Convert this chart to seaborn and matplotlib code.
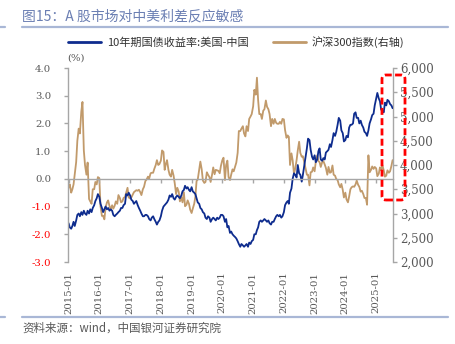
import matplotlib
matplotlib.use("Agg")
import matplotlib.pyplot as plt
import matplotlib.dates as mdates
from matplotlib.ticker import FuncFormatter, MultipleLocator
from matplotlib.patches import FancyBboxPatch
from matplotlib.lines import Line2D
import pandas as pd
import seaborn as sns

# ---------------- data (semi-monthly readings) ----------------
dates = pd.date_range("2015-01-01", "2025-07-15", freq="SMS")

spread_2015 = [-1.60, -1.75, -1.80, -1.70, -1.55, -1.70, -1.50, -1.30, -1.25, -1.35, -1.20, -1.30,
               -1.15, -1.25, -1.30, -1.15, -1.25, -1.10, -1.20, -1.05, -0.95, -0.80, -0.70, -0.55]
spread_2016 = [-0.65, -0.90, -1.05, -1.20, -1.10, -1.00, -1.10, -1.05, -1.15, -1.10, -1.15, -1.30,
               -1.35, -1.30, -1.25, -1.20, -1.15, -1.05, -1.05, -0.95, -0.90, -0.55, -0.60, -0.50]
spread_2017 = [-0.60, -0.75, -0.80, -0.90, -0.85, -0.80, -0.95, -1.05, -1.15, -1.25, -1.35, -1.35,
               -1.30, -1.30, -1.35, -1.45, -1.50, -1.40, -1.35, -1.45, -1.55, -1.65, -1.55, -1.50]
spread_2018 = [-1.35, -1.15, -1.00, -0.95, -0.90, -0.85, -0.75, -0.60, -0.65, -0.55, -0.70, -0.75,
               -0.65, -0.60, -0.65, -0.70, -0.60, -0.45, -0.40, -0.25, -0.35, -0.30, -0.40, -0.45]
spread_2019 = [-0.30, -0.45, -0.50, -0.55, -0.70, -0.85, -0.90, -1.05, -1.10, -1.20, -1.25, -1.40,
               -1.45, -1.35, -1.40, -1.55, -1.45, -1.40, -1.45, -1.50, -1.40, -1.45, -1.40, -1.30]
spread_2020 = [-1.30, -1.35, -1.55, -1.45, -1.75, -1.70, -1.95, -1.90, -2.00, -2.05, -2.10, -2.15,
               -2.25, -2.35, -2.45, -2.35, -2.40, -2.45, -2.40, -2.35, -2.45, -2.30, -2.35, -2.25]
spread_2021 = [-2.20, -2.00, -2.00, -1.85, -1.75, -1.55, -1.50, -1.55, -1.50, -1.45, -1.50, -1.55,
               -1.50, -1.60, -1.65, -1.55, -1.55, -1.45, -1.35, -1.30, -1.35, -1.30, -1.40, -1.35]
spread_2022 = [-1.20, -0.95, -0.85, -0.80, -0.90, -0.50, -0.35, 0.00, 0.20, 0.15, 0.05, 0.50,
               0.20, 0.15, -0.10, 0.15, 0.50, 0.80, 1.10, 1.45, 1.40, 1.05, 0.80, 0.70]
spread_2023 = [0.85, 0.60, 0.70, 1.00, 1.10, 0.70, 0.65, 0.75, 0.70, 0.95, 1.00, 1.05,
               1.25, 1.15, 1.40, 1.65, 1.55, 1.70, 1.95, 2.20, 2.10, 1.75, 1.65, 1.35]
spread_2024 = [1.40, 1.55, 1.50, 1.85, 1.95, 1.95, 2.00, 2.35, 2.40, 2.20, 2.20, 2.00,
               2.10, 1.95, 1.85, 1.70, 1.65, 1.55, 1.75, 2.00, 2.15, 2.30, 2.35, 2.65]
spread_2025 = [2.90, 3.10, 2.90, 2.80, 2.50, 2.45, 2.40, 2.75, 2.65, 2.85, 2.80, 2.70, 2.65, 2.55]

csi_2015 = [3530, 3600, 3430, 3500, 3600, 3800, 4060, 4500, 4750, 4650, 5100, 5300,
            4300, 4000, 3800, 4050, 3300, 3250, 3200, 3500, 3500, 3650, 3600, 3750]
csi_2016 = [3730, 3150, 2950, 2950, 2880, 3120, 3230, 3270, 3150, 3080, 3170, 3100,
            3160, 3250, 3200, 3380, 3320, 3230, 3250, 3320, 3340, 3430, 3530, 3330]
csi_2017 = [3310, 3330, 3390, 3440, 3460, 3480, 3470, 3490, 3440, 3380, 3500, 3550,
            3670, 3700, 3760, 3720, 3830, 3840, 3840, 3920, 4000, 4100, 4000, 4020]
csi_2018 = [4090, 4300, 4270, 3900, 4020, 4100, 3900, 3800, 3760, 3900, 3780, 3620,
            3400, 3530, 3450, 3250, 3330, 3230, 3440, 3150, 3180, 3270, 3200, 3080]
csi_2019 = [3010, 3100, 3200, 3350, 3670, 3700, 3900, 4070, 3910, 3680, 3630, 3650,
            3850, 3800, 3750, 3650, 3800, 3950, 3810, 3900, 3890, 3880, 3830, 3980]
csi_2020 = [4100, 4150, 3690, 4000, 4090, 3750, 3690, 3800, 3910, 3870, 3970, 4050,
            4250, 4700, 4700, 4750, 4800, 4650, 4590, 4800, 4700, 4950, 5000, 5050]
csi_2021 = [5210, 5550, 5450, 5800, 5340, 5050, 5050, 4950, 5120, 5150, 5330, 5200,
            5150, 5050, 4800, 4950, 4850, 4950, 4870, 4850, 4850, 4890, 4850, 4950]
csi_2022 = [4940, 4720, 4560, 4610, 4580, 4000, 4240, 4100, 3820, 3920, 4100, 4300,
            4480, 4250, 4170, 4180, 4050, 3930, 3800, 3800, 3580, 3850, 3860, 3950]
csi_2023 = [3870, 4070, 4200, 4080, 4060, 3960, 4060, 4080, 4010, 3940, 3800, 3960,
            3840, 3850, 3990, 3800, 3780, 3710, 3690, 3600, 3540, 3610, 3490, 3330]
csi_2024 = [3430, 3290, 3230, 3350, 3500, 3540, 3560, 3550, 3600, 3680, 3590, 3550,
            3450, 3470, 3400, 3320, 3320, 3180, 4200, 3850, 3900, 3970, 3920, 3960]
csi_2025 = [3930, 3770, 3820, 3950, 3890, 4000, 3890, 3760, 3780, 3890, 3840, 3870, 3980, 4100]

spread = (spread_2015 + spread_2016 + spread_2017 + spread_2018 + spread_2019 + spread_2020
          + spread_2021 + spread_2022 + spread_2023 + spread_2024 + spread_2025)
csi300 = (csi_2015 + csi_2016 + csi_2017 + csi_2018 + csi_2019 + csi_2020
          + csi_2021 + csi_2022 + csi_2023 + csi_2024 + csi_2025)

left_ticks = [-3, -2, -1, 0, 1, 2, 3, 4]
right_ticks = [2000, 2500, 3000, 3500, 4000, 4500, 5000, 5500, 6000]

label_spread = "10年期国债收益率:美国-中国"
label_csi = "沪深300指数(右轴)"
title = "图15：A 股市场对中美利差反应敏感"
source = "资料来源：wind，中国银河证券研究院"

df = pd.DataFrame({"date": dates, "spread": spread, "csi300": csi300})

# ---------------- style ----------------
sns.set_style("white")
plt.rcParams["font.family"] = ["Noto Sans CJK SC", "DejaVu Sans"]

BLUE = "#0E2C8E"
TAN = "#C19A6B"
GRAY = "#595959"
AXGRAY = "#A6A6A6"
NUMFONT = "DejaVu Serif"

W, H = 455, 344
fig = plt.figure(figsize=(W / 100, H / 100), dpi=100)
ax = fig.add_axes([68 / W, (H - 262) / H, 325 / W, 194 / H])
ax2 = ax.twinx()

sns.lineplot(data=df, x="date", y="csi300", ax=ax2, color=TAN, lw=1.3, legend=False)
sns.lineplot(data=df, x="date", y="spread", ax=ax, color=BLUE, lw=1.3, legend=False)
ax.set_zorder(ax2.get_zorder() + 1)
ax.patch.set_visible(False)

ax.set_xlim(pd.Timestamp("2014-12-25"), pd.Timestamp("2025-07-20"))
ax.set_ylim(-3, 4)
ax2.set_ylim(2000, 6000)
ax.set_xlabel("")
ax.set_ylabel("")
ax2.set_xlabel("")
ax2.set_ylabel("")

# spines
ax.spines["bottom"].set_visible(False)
ax.spines["right"].set_visible(False)
ax.spines["top"].set_position(("data", 0))
ax.spines["top"].set_color(AXGRAY)
ax.spines["top"].set_linewidth(1.0)
ax.spines["left"].set_color(AXGRAY)
ax.spines["left"].set_linewidth(1.0)
for s in ["top", "bottom", "left"]:
    ax2.spines[s].set_visible(False)
ax2.spines["right"].set_color(AXGRAY)
ax2.spines["right"].set_linewidth(1.0)

# x axis
ax.xaxis.set_major_locator(mdates.YearLocator())
ax.xaxis.set_major_formatter(mdates.DateFormatter("%Y-%m"))
ax.tick_params(axis="x", bottom=False, top=True, labelbottom=True, labeltop=False,
               direction="in", length=3, width=1, color=AXGRAY, pad=7,
               labelsize=7.3, labelcolor=GRAY, labelrotation=90)
for t in ax.get_xticklabels():
    t.set_fontfamily(NUMFONT)

# left y
ax.set_yticks(left_ticks)
ax.yaxis.set_major_formatter(FuncFormatter(lambda v, p: f"{v:.1f}"))
ax.tick_params(axis="y", direction="out", length=3, width=1, color=AXGRAY, pad=9,
               labelsize=7.3)
for t, v in zip(ax.get_yticklabels(), left_ticks):
    t.set_fontfamily(NUMFONT)
    t.set_color("#FF0000" if v < 0 else GRAY)

# right y
ax2.set_yticks(right_ticks)
ax2.yaxis.set_major_formatter(FuncFormatter(lambda v, p: f"{v:,.0f}"))
ax2.tick_params(axis="y", direction="out", length=3, width=1, color=AXGRAY, pad=2,
                labelsize=8.5, labelcolor=GRAY)
for t in ax2.get_yticklabels():
    t.set_fontfamily(NUMFONT)

ax.text(-0.003, 1.052, "(%)", transform=ax.transAxes, ha="left", va="center",
        fontsize=7.3, color=GRAY, family=NUMFONT)

# legend
h1 = Line2D([], [], color=BLUE, lw=2)
h2 = Line2D([], [], color=TAN, lw=2)
fig.legend([h1, h2], [label_spread, label_csi], loc="center",
           bbox_to_anchor=(236 / W, 1 - 42 / H), ncol=2, frameon=False,
           fontsize=8, handlelength=3.0, columnspacing=2.2, handletextpad=0.5,
           labelcolor="#333333")

# title, rules, source
fig.text(22 / W, 1 - 16 / H, title, fontsize=10, color="#6B7FB3", va="center", ha="left")
RULE = "#A9B7D6"
for yy in (27, 317):
    fig.add_artist(Line2D([22 / W, 448 / W], [1 - yy / H] * 2, transform=fig.transFigure,
                          color=RULE, lw=1.6))
    fig.add_artist(Line2D([0, 5 / W], [1 - yy / H] * 2, transform=fig.transFigure,
                          color=RULE, lw=1.6))
fig.text(22 / W, 1 - 328 / H, source, fontsize=8.3, color=GRAY, va="center", ha="left",
         style="italic")

# red dashed highlight box
box = FancyBboxPatch((382 / 100, (H - 200) / 100), 23 / 100, 125 / 100,
                     boxstyle="round,pad=0,rounding_size=0.04",
                     transform=fig.dpi_scale_trans, fill=False, edgecolor="#FF0000",
                     lw=2, linestyle=(0, (2.5, 1.2)), zorder=10)
fig.add_artist(box)

fig.savefig("out.png", dpi=100)
